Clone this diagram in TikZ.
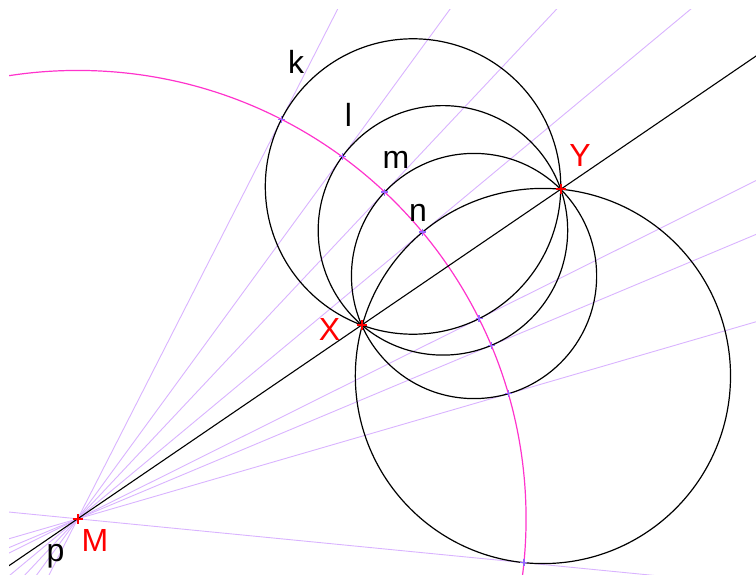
\documentclass[tikz,border=0pt]{standalone}
\usepackage{fontspec}
\setmainfont{Liberation Sans}
\usetikzlibrary{calc,intersections}
\definecolor{lilac}{RGB}{217,179,255}
\definecolor{arcmag}{RGB}{255,51,204}
\definecolor{tpt}{RGB}{150,100,255}
\begin{document}
\begin{tikzpicture}[x=1pt,y=-1pt,
  lab/.style={font=\fontsize{32}{38}\selectfont, anchor=base, inner sep=0pt},
  redlab/.style={lab, text=red},
  ray/.style={draw=lilac, line width=0.9pt},
  circ/.style={draw=black, line width=1.2pt},
  tmark/.pic={\draw[tpt, line width=1.4pt] (-3.5,0)--(3.5,0) (0,-3.5)--(0,3.5);},
  rmark/.pic={\draw[red, line width=1.8pt] (-5,0)--(5,0) (0,-5)--(0,5);}]
\useasboundingbox (0,0) rectangle (756,575);
\coordinate (M) at (77.7,518.8);
\coordinate (X) at (361.7,325.0);
\coordinate (Y) at (560.7,189.3);
\coordinate (C1) at (413.03,186.50);
\coordinate (C2) at (442.93,230.36);
\coordinate (C3) at (474.05,276.00);
\coordinate (C4) at (542.93,376.0);
\path[name path=P] (M) circle (448.36pt);
\path[name path=c1] (C1) circle (147.72pt);
\path[name path=c2] (C2) circle (124.74pt);
\path[name path=c3] (C3) circle (122.59pt);
\path[name path=c4] (C4) circle (187.6pt);
\path[name intersections={of=P and c1, name=a}];
\path[name intersections={of=P and c2, name=b}];
\path[name intersections={of=P and c3, name=c}];
\path[name intersections={of=P and c4, name=d}];
\begin{scope}
  \clip (9,10) rectangle (756,575);
  \foreach \q in {a-1,a-2,b-1,b-2,c-1,c-2,d-1,d-2}{
    \draw[ray] ($(M)!-2!(\q)$) -- ($(M)!3!(\q)$);
  }
  \draw[draw=arcmag, line width=1.2pt] (M) circle (448.36pt);
  \draw[circ] (C1) circle (147.72pt);
  \draw[circ] (C2) circle (124.74pt);
  \draw[circ] (C3) circle (122.59pt);
  \draw[circ] (C4) circle (187.6pt);
  \draw[black, line width=1.1pt] ($(M)!-1!(Y)$) -- ($(M)!2!(Y)$);
  \foreach \q in {a-1,a-2,b-1,b-2,c-1,c-2,d-1,d-2}{
    \pic at (\q) {tmark};
  }
\end{scope}
\pic at (M) {rmark};
\pic at (X) {rmark};
\pic at (Y) {rmark};
\node[lab] (lk) at (296,73.5) {k};
\node[lab] (ll) at (348.5,127) {l};
\node[lab] (lm) at (396,169) {m};
\node[lab] (ln) at (418,222) {n};
\node[lab] (lp) at (55.5,561) {p};
\node[redlab] (lX) at (329.5,340) {X};
\node[redlab] (lY) at (580,167) {Y};
\node[redlab] (lM) at (95,551) {M};
\end{tikzpicture}
\end{document}
